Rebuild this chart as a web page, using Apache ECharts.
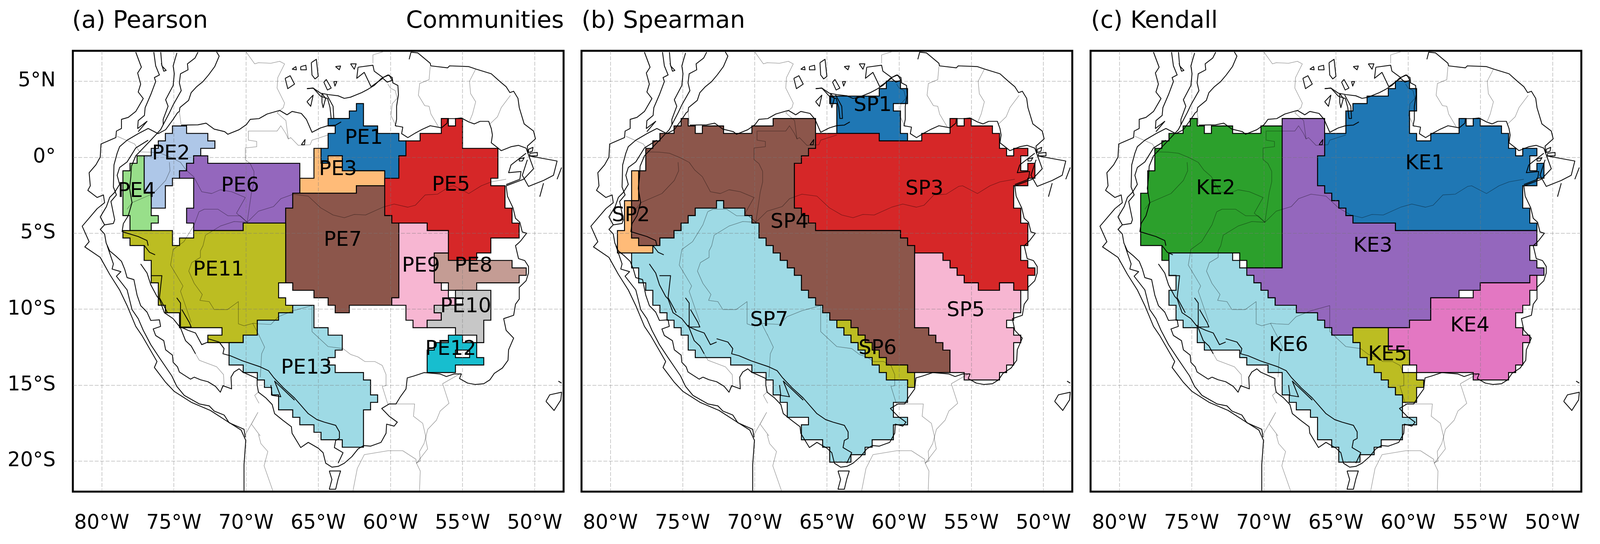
<!DOCTYPE html>
<html>
<head>
<meta charset="utf-8">
<title>Communities</title>
<script src="https://cdn.jsdelivr.net/npm/echarts@6/dist/echarts.min.js"></script>
<style>
	html, body { margin: 0; padding: 0; background: #fff; overflow: hidden; }
	#chart { width: 100vw; height: 100vh; }
</style>
</head>
<body>
<div id="chart"></div>
<script>
// axis ticks
var lonTicks = [-80, -75, -70, -65, -60, -55, -50];
var latTicks = [-20, -15, -10, -5, 0, 5];

// the communities sit on a lattice: cell corner index -> lon / lat
var cellLon0 = -78.53, cellLonStep = 0.4902;
var cellLat0 = 0.09, cellLatStep = 0.4915;

// outlines: first corner i,j then alternating new i, new j (rectilinear walk)
var PE1 = [33,-7, 34,-4,36,-3,39,-2,40,0,39,3,37,2,31,0,29,1,28,-1,29,-3,30,-4,29,-5,32,-6,33];
var PE2 = [7,-4, 9,-3,12,-2,13,-1,11,0,10,1,9,2,8,3,7,4,6,7,4,5,3,0,4,-1,5,-2,6,-3,7];
var PE3 = [27,-1, 28,1,29,0,31,2,37,4,33,5,25,3,27];
var PE4 = [0,2, 1,1,2,0,3,5,4,8,5,9,4,10,1,8,0];
var PE5 = [45,-5, 46,-4,47,-5,48,-1,53,3,52,4,54,7,55,9,56,11,52,13,50,14,46,10,43,9,38,8,37,3,39,0,40,-2,42,-3,45];
var PE6 = [10,0, 12,1,25,5,24,7,23,9,17,10,10,9,9,7,10,3,8,2,9,1,10];
var PE7 = [33,4, 37,8,38,9,39,19,38,20,32,21,30,20,29,19,27,18,24,17,23,7,24,5,33];
var PE8 = [44,13, 46,14,55,15,57,16,56,17,50,18,46,17,44];
var PE9 = [39,9, 43,10,46,13,44,17,45,18,46,19,47,20,44,21,45,22,43,23,41,22,40,20,38,19,39];
var PE10 = [47,18, 52,22,51,25,50,24,47,23,43,22,45,21,44,20,48,19,47];
var PE11 = [0,10, 7,12,8,11,10,10,17,9,23,17,22,19,23,20,24,21,22,22,19,24,17,25,12,24,14,23,8,21,6,20,5,17,4,14,3,12,1,11,0];
var PE12 = [46,24, 48,25,50,27,51,28,47,29,43,26,44,25,46];
var PE12gap = [47,26, 49,27,47];
var PE13 = [24,20, 27,23,29,24,31,26,30,27,29,28,30,29,34,30,35,32,36,33,35,34,34,39,31,38,28,37,27,36,25,35,24,34,22,32,21,31,20,30,19,29,17,28,15,25,17,24,19,22,22,21,24];

var SP1 = [28,-8, 35,-9,36,-10,38,-9,39,-7,37,-6,38,-3,39,-2,35,-3,29,-7,28];
var SP2 = [0,2, 1,6,0,11,1,12,3,13,-2,10,-1,6,0];
var SP3 = [26,-3, 35,-2,41,-3,45,-5,46,-4,47,-5,48,-4,51,-3,52,-1,53,0,54,-1,56,0,55,2,56,1,57,3,56,4,54,7,55,9,56,12,55,14,56,15,57,16,56,18,54,17,52,18,49,17,47,16,46,15,45,14,44,13,40,12,39,11,38,10,26,9,25,8,24,7,23,1,24,0,25,-1,26];
var SP4 = [2,-1, 3,-2,4,-3,6,-4,7,-5,8,-4,9,-3,10,-4,13,-3,17,-4,20,-5,26,-1,25,0,24,1,23,7,24,8,25,9,26,10,38,11,39,12,40,23,42,24,43,25,44,26,45,29,39,28,36,27,35,26,34,25,33,24,32,23,31,22,28,21,27,20,26,19,25,18,24,16,23,15,22,14,21,13,20,12,19,11,18,9,17,8,16,7,13,6,12,7,9,8,8,9,7,10,6,11,4,12,1,11,0,6,1,2,2];
var SP5 = [40,13, 44,14,45,15,46,16,47,17,49,18,52,17,54,18,55,21,54,22,53,23,54,24,55,25,54,28,53,29,52,30,47,29,45,26,44,25,43,24,42,23,40];
var SP6 = [29,22, 31,23,32,24,33,25,34,26,35,27,36,28,39,29,40,31,39,30,36,29,35,28,34,27,33,26,32,25,31,24,30,23,29];
var SP7 = [0,13, 3,12,4,11,6,10,7,9,8,8,9,7,12,6,13,7,16,8,17,9,18,11,19,12,20,13,21,14,22,15,23,16,24,18,25,19,26,20,27,21,28,22,29,23,30,24,31,25,32,26,33,27,34,28,35,29,36,30,39,33,37,35,39,36,37,38,34,39,33,40,31,41,28,39,27,38,24,36,25,35,22,33,21,32,20,30,19,29,17,28,14,27,9,26,8,24,7,23,6,22,5,21,4,20,3,18,2,17,1,15,0];

var KE1 = [36,-10, 38,-9,39,-6,38,-3,39,-2,41,-3,45,-5,46,-4,47,-5,48,-4,51,-3,52,-1,53,0,54,-1,56,0,55,2,56,1,57,3,56,4,54,7,55,9,56,10,36,9,30,8,29,7,28,6,27,5,26,4,25,0,26,-3,29,-6,30,-7,32,-8,35,-9,36];
var KE2 = [7,-5, 8,-4,9,-3,10,-4,13,-3,17,-4,20,15,15,14,14,13,4,14,3,12,0,5,1,2,2,-1,3,-2,4,-3,6,-4,7];
var KE3 = [20,-5, 26,0,25,4,26,5,27,6,28,7,29,8,30,9,36,10,56,12,55,14,56,15,57,16,55,17,48,18,45,19,41,22,38,23,30,24,27,23,26,22,25,21,22,20,19,19,18,18,17,17,16,16,15,15,20];
var KE4 = [38,22, 41,19,47,18,48,17,55,16,56,18,55,20,54,21,53,23,54,24,55,25,54,28,53,29,52,30,47,29,39,28,38,26,35,23,38];
var KE5 = [30,23, 35,26,38,28,37,29,39,30,40,31,39,33,37,32,36,31,35,30,34,29,33,28,32,27,31,25,30];
var KE6 = [4,13, 13,14,14,15,15,16,16,17,17,18,18,19,19,20,22,21,25,22,26,23,27,24,30,25,31,27,32,28,33,29,34,30,35,31,36,32,37,35,39,36,37,38,34,39,33,40,31,41,28,39,27,38,25,35,24,34,22,33,21,32,20,29,18,28,15,27,14,26,9,25,8,23,6,22,5,20,4,18,5,16,4];

// community names, fill colours, label positions (lon, lat)
var pearsonNames = ['PE1','PE2','PE3','PE4','PE5','PE6','PE7','PE8','PE9','PE10','PE11','PE12','PE13'];
var pearsonShapes = [PE1,PE2,PE3,PE4,PE5,PE6,PE7,PE8,PE9,PE10,PE11,PE12,PE13];
var pearsonColors = ['#1f77b4','#aec7e8','#ffbb78','#98df8a','#d62728','#9467bd','#8c564b','#c49c94','#f7b6d2','#c7c7c7','#bcbd22','#17becf','#9edae5'];
var pearsonLabels = [[-61.84,1.23],[-75.2,0.2],[-63.63,-0.82],[-77.57,-2.26],[-55.8,-1.85],[-70.41,-1.9],[-63.3,-5.48],[-54.24,-7.19],[-57.88,-7.19],[-54.78,-9.84],[-71.9,-7.44],[-55.82,-12.65],[-65.81,-13.9]];

var spearmanNames = ['SP1','SP2','SP3','SP4','SP5','SP6','SP7'];
var spearmanShapes = [SP1,SP2,SP3,SP4,SP5,SP6,SP7];
var spearmanColors = ['#1f77b4','#ffbb78','#d62728','#8c564b','#f7b6d2','#bcbd22','#9edae5'];
var spearmanLabels = [[-61.83,3.4],[-78.58,-3.86],[-58.24,-2.12],[-67.59,-4.29],[-55.38,-10.11],[-61.49,-12.6],[-69,-10.75]];

var kendallNames = ['KE1','KE2','KE3','KE4','KE5','KE6'];
var kendallShapes = [KE1,KE2,KE3,KE4,KE5,KE6];
var kendallColors = ['#1f77b4','#2ca02c','#9467bd','#e377c2','#bcbd22','#9edae5'];
var kendallLabels = [[-58.84,-0.43],[-73.33,-2.08],[-62.44,-5.87],[-55.72,-11.12],[-61.42,-13.02],[-68.28,-12.4]];

// base map, lon,lat pairs: black = basin edge, coast, Andes contours
var basinNorth = [-74.49,2.11,-73.33,2.13,-72.77,2.24,-72.21,1.85,-71.48,1.68,-71.26,1.51,-70.48,1.81,-69.97,2.15,-69.71,2.49,-69.1,2.54,-68.54,2.84,-67.67,3.08,-67.16,2.79,-66.81,3.01,-66.17,2.88,-65.82,2.49,-65.43,1.64,-64.83,1.93,-64.31,2.08,-63.8,2.11,-63.41,2.32];
var basinRoraima = [-65.78,4.51,-65.35,4.55,-64.83,4.21,-64.31,4.12,-63.62,4.04,-63.19,3.87,-62.76,3.95,-61.99,4.25,-61.55,4.47,-61.12,4.72,-60.61,5.19,-60.17,5.41,-59.87,5.24,-59.83,4.89,-59.48,4.72,-59.44,4.12,-59.57,3.35,-59.57,2.49,-59.66,2.07,-59.14,1.98,-59.22,1.55,-58.79,1.29,-58.27,1.59,-57.84,1.81,-57.24,2.07,-56.46,1.93,-56.07,2.24,-56.03,2.54,-55.51,2.54,-55.08,2.58,-54.57,2.32,-54.18,2.19,-53.79,2.36,-53.19,2.36,-53.01,1.89,-52.93,1.46,-53.01,0.95,-52.54,0.6,-52.32,0.43,-51.64,0.69,-51.12,0.78,-50.6,0.6,-50.47,0.26];
var casiquiare = [-65.78,4.51,-65.35,4.55,-64.83,4.01,-64.35,3.86,-64.18,3.26,-64.1,2.55,-63.92,2.55,-63.97,3.35,-64.4,4.1];
var guianaCoast = [-58.7,6.44,-58.57,6.91,-58.1,6.86,-57.24,6.18,-57.2,6.01,-56.03,5.88,-55.9,6.01,-54.57,5.96,-54.05,5.79,-53.01,5.49,-52.41,4.98,-51.98,4.64,-51.72,4.25,-51.46,4.34,-51.16,3.87,-51.07,3.26,-50.73,2.19,-50.08,1.72,-49.95,1.21,-50.51,0.73,-50.47,0.26,-50.08,-0.76,-50.77,-1.45,-51.98,-1.88];
var basinSouth = [-51.98,-1.88,-51.89,-2.56,-51.5,-3.34,-51.33,-4.02,-51.03,-4.28,-50.86,-4.92,-50.56,-5,-50.95,-5.48,-51.07,-5.6,-51.33,-5.82,-51.12,-6.67,-50.69,-6.8,-50.43,-7.19,-50.43,-7.62,-50.6,-8.13,-51.07,-8.56,-51.07,-9.33,-51.33,-9.67,-51.46,-10.4,-52.15,-10.62,-51.98,-11.39,-51.46,-11.9,-51.81,-12.67,-51.85,-13.36,-52.24,-13.87,-52.8,-14.22,-53.1,-14.64,-53.53,-14.9,-54.13,-14.95,-54.65,-14.86,-55.21,-14.56,-55.08,-14.26,-55.6,-14.26,-56.12,-14.43,-56.55,-14.26,-57.67,-14.17,-58.36,-14.39,-58.83,-14.52,-58.92,-15.25,-59.31,-15.76,-59.61,-16.23,-60.08,-16.23,-60.6,-16.53,-60.08,-17.04,-59.52,-17.43,-59.74,-17.69,-60.26,-17.56,-60.3,-18.16,-60.65,-18.76,-61.38,-19.01,-61.85,-18.97,-62.24,-19.19,-62.67,-19.7,-63.19,-20.13,-63.62,-20.34,-64.05,-20.39,-64.48,-20.13,-64.66,-19.44,-65,-19.14,-65.69,-18.76,-66.21,-19.1,-66.81,-18.16,-66.86,-17.73,-67.46,-17.3,-68.02,-16.87,-68.19,-16.27,-68.62,-15.84,-69.14,-15.46,-69.23,-14.99,-69.23,-14.56,-70.23,-14.13,-70.48,-13.92,-70.83,-14.13,-71.04,-14.47,-71,-15.24,-71.6,-15.03,-71.78,-15.46,-72.12,-15.07,-72.64,-14.77,-73.16,-14.64,-73.59,-14.47,-73.85,-14.6,-74.62,-14.13,-74.75,-13.79,-75.05,-13.49,-75.1,-13.02,-75.57,-12.67,-75.7,-12.07,-76.26,-11.73,-76.43,-11.3,-75.92,-11.13,-76,-10.7,-76.6,-10.74,-76.86,-10.19,-77.3,-9.76,-77.55,-9.07,-77.77,-8.05,-78.24,-7.92,-78.41,-7.36,-78.63,-6.85,-79.02,-6.5,-79.45,-6.16,-79.69,-5.65,-79.8,-5.05,-80.1,-4.75,-79.8,-4.45,-79.19,-4.36,-79.1,-4.11,-79.36,-2.91,-78.98,-2.48,-79.19,-1.96,-79.15,-0.51,-78.93,0.26,-78.76,0.69,-78.24,1.12,-77.47,1.55,-76.78,1.89,-76.09,1.55,-75.57,1.81,-75.05,2.49,-74.75,2.92,-74.62,3.01,-74.58,3.27,-73.98,3.74,-73.8,4.25,-73.42,4.64,-72.98,4.98,-72.6,5.41,-72.17,5.96,-71.86,6.65,-72.04,6.93];
var contourWest = [-79.62,-5.82,-79.19,-7.02,-79.28,-7.36,-78.67,-7.53,-78.98,-7.83,-78.24,-8.73,-77.9,-10.02,-77.47,-10.62,-77.12,-11.39,-76.6,-12.33,-76,-13.19,-75.14,-14.39,-74.8,-15.07,-74.28,-15.67,-73.24,-16.23,-72.55,-16.36,-72.21,-16.7,-71.52,-16.96,-71.17,-17.47,-70.14,-17.9,-70.05,-18.42];
var contourEast = [-77.3,-7.02,-76.86,-7.62,-76.6,-8.39,-76.17,-9.16,-76,-9.33,-75.66,-10.23,-75.05,-10.62,-74.62,-11.13,-74.02,-11.39,-73.5,-11.56,-73.07,-12.33,-72.64,-12.16];
var andesStrand = [-74.62,-11.04,-74.19,-12.07,-73.8,-12.42,-73.5,-12.93];
var titicacaLine = [-72.64,-11.94,-71.86,-12.16,-71.52,-12.59,-71.6,-12.93,-71.09,-13.06,-70.23,-13.4,-69.02,-13.79,-68.45,-14.04,-68.06,-14.52,-67.42,-15.16,-66.64,-15.84,-65.69,-16.87,-65.09,-17.26,-64.57,-17.43,-63.79,-17.64,-63.53,-18.07,-63.53,-18.5,-63.79,-18.63,-63.88,-19.1,-63.28,-19.44,-63.62,-20.13];
var southBlob = [-64.23,-20.64,-63.45,-20.64,-63.62,-21.16,-63.79,-21.84,-64.23,-21.84,-64.05,-21.2,-64.23,-20.64];
var titicacaLake = [-68.28,-14.99,-68.19,-15.67,-67.59,-15.76,-68.02,-14.73,-66.64,-15.98];
var olive1 = [-77.04,-5.82,-76.69,-6.25,-76.3,-6.42];
var olive2 = [-76.6,-7.79,-75.83,-7.79,-76,-9.24,-75.44,-10.23];
var olive3 = [-74.8,-9.25,-74.54,-9.59,-74.54,-11.04,-74.54,-11.17,-73.8,-11.17,-73.93,-10.87,-74.45,-10.02];
var olive4 = [-78.5,-4.92,-77.47,-5.22,-76.86,-5.48,-76.78,-5.82];
var cordillera1 = [-76.39,6.91,-76.26,6.01,-76,5.41,-76.35,5.24,-76.26,4.98,-76.6,4.12,-76.99,3.26,-77.04,2.75,-77.47,2.41,-77.51,1.89,-76.86,2.36,-77.47,1.68];
var cordillera2 = [-75.91,6.91,-75.83,6.01,-75.53,5.71,-75.7,5.66,-75.87,6.18];
var cordillera3 = [-74.79,6.86,-75.05,6.01,-74.97,5.49,-75.05,4.72,-75.57,3.78,-75.4,3.35,-75.74,2.49,-75.74,2.15];
var cordillera4 = [-73.33,6.91,-73.54,6.52,-74.06,6.14,-74.02,5.75,-74.54,5.49,-74.62,4.89,-74.49,4.38,-75.05,3.44,-75.31,2.92,-75.92,1.81,-76.6,1.12,-77.64,0.09,-77.94,-0.59,-77.98,-1.28,-78.07,-2.05,-77.9,-2.99,-78.16,-3.85,-78.5,-4.37,-78.59,-4.92];
var cordillera5 = [-76.78,1.12,-77.64,0.61,-78.24,-0.31,-78.76,-0.68,-78.93,-1.19,-78.76,-1.79,-79.1,-2.31,-79.45,-2.65,-79.67,-3.25,-80.1,-3.93,-79.8,-4.45];
var pacificCoast = [-70.14,-21.94,-70.14,-20.23,-70.02,-18.63,-70.34,-17.95,-71.43,-17.3,-72.47,-16.66,-73.76,-16.14,-74.97,-15.41,-75.57,-14.81,-76.35,-13.83,-76.17,-13.44,-77.21,-11.73,-77.64,-11.13,-78.24,-9.76,-78.76,-8.73,-79.45,-7.7,-80.1,-6.59,-81.17,-5.9,-80.87,-5.56,-81.35,-4.54,-80.31,-3.38,-79.8,-2.99,-79.88,-2.48,-80.31,-2.65,-80.96,-2.18,-80.79,-1.88,-80.87,-1.02,-80.4,-0.5,-80.1,0.01,-80.05,0.87,-79.02,1.29,-78.98,1.72,-78.63,1.89,-78.63,2.49,-78.16,2.62,-77.64,3.01,-77.12,3.86,-77.47,4.29,-77.3,4.81,-77.51,5.54,-77.25,5.92,-77.64,6.91];
var delta1 = [-50.43,0.09,-48.45,-0.25,-48.7,-1.19,-49.39,-1.53,-50.43,-1.92,-50.86,-1.19,-50.51,-0.17];
var delta2 = [-51.98,-1.8,-51.03,-1.45,-50.95,-0.94,-51.81,-1.02,-51.64,-0.51,-50.6,0.26];
var delta3 = [-49.39,-1.71,-49.65,-2.6];
var delta4 = [-48.45,-1.45,-48.14,-0.68];
var island1 = [-66.81,5.79,-66.55,5.96,-66.51,5.75,-66.81,5.79];
var island2 = [-66.21,5.96,-65.86,6.05,-65.82,5.75,-66.21,5.75,-66.21,5.96];
var island3 = [-65.48,6.22,-65.13,6.44,-65,5.32,-65.22,5.15,-65.43,5.41,-65.48,6.22];
var island4 = [-67.29,5.19,-66.94,5.36,-66.64,4.81,-67.11,4.51,-67.29,5.19];
var island5 = [-64.61,4.94,-64.44,5.11,-64.1,4.55,-64.36,4.42,-64.61,4.94];
var island6 = [-63.8,5.96,-63.45,6,-63.54,5.75,-63.8,5.96];
var island7 = [-62.76,6.14,-62.37,6.14,-62.5,5.79,-62.76,6.14];
var island8 = [-63.92,4.98,-63.71,4.98,-63.84,4.68,-63.92,4.98];
var island9 = [-65.78,3.65,-65.35,4.08,-65.52,3.35,-65.78,3.65];
var island10 = [-62.24,5.92,-61.21,6.05,-61.12,5.66,-60.52,5.24,-60.09,5.41,-59.87,5.06,-60.22,4.94,-60.52,5.19,-61.34,4.64,-61.81,5.58,-62.33,5.19,-62.24,5.92];
var island11 = [-64.74,4.21,-64.49,3.86,-64.66,3.26,-64.74,3.61,-64.74,4.21];
var island12 = [-66.17,0.82,-65.91,1.16,-65.95,0.82,-66.17,0.82];
var island13 = [-49.22,-16.06,-48.96,-15.63,-48.14,-15.46,-48.19,-15.97,-48.66,-16.66,-49.22,-16.06];
var island14 = [-48.36,-14.73,-48.14,-14.86];
var island15 = [-50.43,0.52,-50.12,0.65,-50.17,0.39,-50.43,0.31,-50.43,0.52];
var island16 = [-50.34,0.26,-49.82,0.31,-49.82,0.09,-50.34,0.09,-50.34,0.26];
var island17 = [-51.07,-0.12,-50.73,-0.03,-50.86,-0.25,-51.07,-0.25,-51.07,-0.12];

// base map, grey = rivers and borders
var river1 = [-78.93,1.38,-77.72,0.87,-77.38,0.35,-76.6,0.33,-75.91,0.26,-75.14,-0.04,-74.54,-0.34,-74.15,-0.85,-73.63,-1.28,-73.07,-2.27,-72.38,-2.39,-71.78,-2.14,-71,-2.27,-70.05,-2.65,-70.66,-3.68,-69.92,-4.28];
var river2 = [-75.31,-0.33,-75.27,-0.89,-75.57,-1.53,-76.43,-2.39,-77.9,-2.99,-78.24,-3.42];
var river3 = [-69.71,-0.42,-69.45,-0.93,-69.45,-1.62,-69.62,-2.31,-69.92,-4.28];
var border1 = [-64.31,1.46,-65.43,1.12,-65.56,0.82,-66.38,0.78,-66.9,1.29,-67.07,1.2,-67.24,1.55,-67.59,2.07,-67.85,1.72,-69.84,1.72,-69.84,1.12,-69.26,1.04,-69.26,0.69,-70.05,0.61,-70.05,-0.16,-69.71,-0.42];
var border2 = [-70,6.93,-69.4,6.14,-69.14,6.22,-68.28,6.18,-67.67,6.31,-67.33,6.14,-67.8,5.24,-67.85,4.55,-67.33,3.56,-67.42,3.26,-67.85,2.92,-67.24,2.41,-67.07,1.2];
var border3 = [-60.52,6.93,-61.21,6.73,-61.21,6.18];
var border4 = [-60.17,4.81,-60,4.55,-59.66,4.38,-59.53,3.87,-59.87,3.52,-59.96,2.75,-59.57,1.98];
var border5 = [-57.24,5.96,-57.32,5.1,-57.97,4.85,-58.06,4.08,-57.62,3.39,-57.32,3.35,-57.19,2.84,-56.68,2.02];
var border6 = [-54.09,5.79,-54.52,5,-54.44,4.18,-54.09,3.65,-54.31,2.84,-54.52,2.36];
var border7 = [-51.68,4.07,-52.32,3.26,-52.58,2.66,-53.14,2.15];
var border8 = [-74.62,3.01,-74.5,2.15];
var amazon = [-69.92,-4.28,-69.14,-3.55,-68.1,-3.25,-67.59,-2.73,-66.73,-2.43,-65.69,-2.56,-64.83,-3.33,-63.97,-3.8,-63.19,-3.98,-62.5,-3.76,-61.72,-3.8,-60.52,-3.29,-59.74,-3.08,-58.79,-3.29,-58.27,-3.16,-57.59,-2.48,-56.73,-2.43,-55.87,-1.92,-55.6,-1.88,-54.57,-2.39,-53.7,-1.88,-53.01,-1.62,-51.98,-1.45];
var purus = [-69.92,-4.28,-70.83,-4.23,-71.78,-4.53,-72.81,-5.13,-72.98,-5.82,-73.16,-6.16,-73.16,-6.59,-73.76,-6.93,-73.97,-7.49,-73.59,-8.3,-73.03,-9.03,-73.2,-9.42,-72.55,-9.5,-72.21,-10.02,-71.3,-10.03,-70.53,-9.5,-70.53,-10.96,-70.14,-11.09,-69.49,-10.92,-69.14,-10.96,-68.28,-11,-67.76,-10.49,-66.73,-10.1,-65.43,-9.76];
var guapore = [-65.43,-9.76,-65.43,-11.47,-64.31,-12.46,-63.28,-12.59,-62.76,-12.97,-62.24,-13.14,-61.77,-13.44,-61.08,-13.44,-60.56,-13.7,-60.3,-14.3,-60.3,-15.03,-60.56,-15.07,-60.17,-16.27];
var ucayali = [-73.26,-3.59,-72.9,-3.42,-71.95,-3.42,-71.26,-3.85,-70.4,-3.85,-69.92,-4.28];
var maranon = [-73.26,-3.59,-73.59,-4.45,-74.31,-5.56,-75.05,-6.07,-75.23,-7.1,-74.37,-8.47,-74.54,-8.82,-73.8,-10.87];
var andesGrey = [-73.5,-12.93,-73.24,-13.36,-72.03,-13.79,-71.56,-14.3,-71.52,-14.99,-71.73,-15.33];
var acreBranch = [-69.54,-10.92,-69.1,-11.73,-69.14,-11.64,-68.71,-12.5,-68.92,-12.93,-69.01,-14.47];
var border9 = [-60.17,-16.23,-58.32,-16.23,-58.4,-17.04,-57.76,-17.51,-57.54,-18.41,-57.54,-18.6,-57.42,-19.19,-58.19,-20.13,-57.93,-20.64,-57.98,-21.93];
var border10 = [-55.13,-14.22,-56.38,-14.9,-55.94,-16.19,-56.55,-16.7,-56.81,-17.3,-57.41,-17.9,-57.67,-18.84,-57.98,-19.36,-57.93,-19.96,-58.19,-20.13];
var border11 = [-62.59,-21.93,-62.29,-20.47,-61.81,-19.57,-60.17,-19.31,-59.14,-19.31,-58.23,-19.87,-58.19,-20.13];
var border12 = [-69.14,-18.24,-68.97,-18.84,-68.49,-19.36,-68.75,-20.3,-68.15,-21.93];
var border13 = [-70.05,-18.25,-69.18,-16.79,-69.62,-17.56,-69.02,-18.33];
var border14 = [-69.1,-15.41,-69.4,-15.67,-69.1,-16.19];

var blackLines = [basinNorth,basinRoraima,casiquiare,guianaCoast,basinSouth,contourWest,contourEast,andesStrand,titicacaLine,southBlob,titicacaLake,olive1,olive2,olive3,olive4,cordillera1,cordillera2,cordillera3,cordillera4,cordillera5,pacificCoast,delta1,delta2,delta3,delta4,island1,island2,island3,island4,island5,island6,island7,island8,island9,island10,island11,island12,island13,island14,island15,island16,island17];
var greyLines = [river1,river2,river3,border1,border2,border3,border4,border5,border6,border7,border8,amazon,purus,guapore,ucayali,maranon,andesGrey,acreBranch,border9,border10,border11,border12,border13,border14];

var fontName = 'DejaVu Sans';

function walkToLonLat(walk)
{
	var points = [];
	var i = walk[0], j = walk[1];
	points.push([cellLon0 + i * cellLonStep, cellLat0 - j * cellLatStep]);
	for (var k = 2; k < walk.length; k++)
	{
		if (k % 2 == 0) { i = walk[k]; } else { j = walk[k]; }
		points.push([cellLon0 + i * cellLonStep, cellLat0 - j * cellLatStep]);
	}
	return points;
}

function pairsToLonLat(pairs)
{
	var points = [];
	for (var k = 0; k < pairs.length; k += 2)
	{
		points.push([pairs[k], pairs[k + 1]]);
	}
	return points;
}

function regionSeries(panel, shapes, colors, extraShapes)
{
	var outlines = shapes.map(walkToLonLat);
	var fills = colors.slice();
	extraShapes.forEach(function (s) { outlines.push(walkToLonLat(s)); fills.push('#ffffff'); });
	return {
		type: 'custom',
		xAxisIndex: panel,
		yAxisIndex: panel,
		coordinateSystem: 'cartesian2d',
		z: 2,
		clip: true,
		silent: true,
		encode: { x: 0, y: 1 },
		data: outlines.map(function (o, idx) { return [o[0][0], o[0][1], idx]; }),
		renderItem: function (params, api) {
			var idx = api.value(2);
			return {
				type: 'polygon',
				shape: { points: outlines[idx].map(function (p) { return api.coord(p); }) },
				style: { fill: fills[idx], stroke: '#000', lineWidth: 2.4 }
			};
		}
	};
}

function mapLineSeries(panel, lines, color, width, z)
{
	var paths = lines.map(pairsToLonLat);
	return {
		type: 'custom',
		xAxisIndex: panel,
		yAxisIndex: panel,
		coordinateSystem: 'cartesian2d',
		z: z,
		clip: true,
		silent: true,
		encode: { x: 0, y: 1 },
		data: paths.map(function (o, idx) { return [o[0][0], o[0][1], idx]; }),
		renderItem: function (params, api) {
			return {
				type: 'polyline',
				shape: { points: paths[api.value(2)].map(function (p) { return api.coord(p); }) },
				style: { fill: null, stroke: color, lineWidth: width, lineJoin: 'round' }
			};
		}
	};
}

function labelSeries(panel, names, positions)
{
	return {
		type: 'custom',
		xAxisIndex: panel,
		yAxisIndex: panel,
		coordinateSystem: 'cartesian2d',
		z: 6,
		silent: true,
		encode: { x: 0, y: 1 },
		data: positions.map(function (p, idx) { return [p[0], p[1], idx]; }),
		renderItem: function (params, api) {
			var c = api.coord([api.value(0), api.value(1)]);
			return {
				type: 'text',
				style: {
					x: c[0], y: c[1],
					text: names[api.value(2)],
					fill: '#000',
					font: (54.5 * pageScale) + 'px "' + fontName + '"',
					textAlign: 'center',
					textVerticalAlign: 'middle'
				}
			};
		}
	};
}

var myChart = echarts.init(document.getElementById('chart'));

// the layout was measured on the 4284 wide picture, follow whatever width the page really has
var pageScale = myChart.getWidth() / 4284;

var panelLefts = [195, 1557, 2920];
var panelWidth = 1314;
var panelTop = 130;
var panelHeight = 1128;

var grids = [], xAxes = [], yAxes = [], series = [];
panelLefts.forEach(function (left, panel) {
	grids.push({
		left: left * pageScale, top: panelTop, width: panelWidth * pageScale, height: panelHeight,
		show: true, backgroundColor: '#fff', borderColor: '#000', borderWidth: 5
	});
	xAxes.push({
		type: 'value', gridIndex: panel, min: -82, max: -48, z: 4,
		axisLine: { show: false },
		axisTick: { show: false, customValues: lonTicks },
		splitLine: { show: true, lineStyle: { color: 'rgba(120,120,120,0.5)', width: 1.5, type: [10, 4] } },
		axisLabel: {
			show: true, customValues: lonTicks, margin: 56,
			color: '#000', fontFamily: fontName, fontSize: 53.5 * pageScale,
			formatter: function (v) { return (-v) + '°W'; }
		}
	});
	yAxes.push({
		type: 'value', gridIndex: panel, min: -22, max: 7, z: 4,
		axisLine: { show: false },
		axisTick: { show: false, customValues: latTicks },
		splitLine: { show: true, lineStyle: { color: 'rgba(120,120,120,0.5)', width: 1.5, type: [10, 4] } },
		axisLabel: {
			show: panel == 0, customValues: latTicks, margin: 46 * pageScale,
			color: '#000', fontFamily: fontName, fontSize: 53.5 * pageScale,
			formatter: function (v) { return v > 0 ? v + '°N' : (v < 0 ? (-v) + '°S' : '0°'); }
		}
	});
});

series.push(regionSeries(0, pearsonShapes, pearsonColors, [PE12gap]));
series.push(regionSeries(1, spearmanShapes, spearmanColors, []));
series.push(regionSeries(2, kendallShapes, kendallColors, []));
[0, 1, 2].forEach(function (panel) {
	series.push(mapLineSeries(panel, greyLines, 'rgba(0,0,0,0.42)', 1.3, 5));
	series.push(mapLineSeries(panel, blackLines, 'rgba(0,0,0,0.95)', 2.2, 5));
});
series.push(labelSeries(0, pearsonNames, pearsonLabels));
series.push(labelSeries(1, spearmanNames, spearmanLabels));
series.push(labelSeries(2, kendallNames, kendallLabels));

var titleStyle = { color: '#000', fontFamily: fontName, fontSize: 64 * pageScale, fontWeight: 'normal' };

option = {
	backgroundColor: '#fff',
	animation: false,
	title: [
		{ text: '(a) Pearson', left: 193 * pageScale, top: 25, padding: 0, textStyle: titleStyle },
		{ text: 'Communities', left: 1510 * pageScale, top: 25, padding: 0, textAlign: 'right', textStyle: titleStyle },
		{ text: '(b) Spearman', left: 1557 * pageScale, top: 25, padding: 0, textStyle: titleStyle },
		{ text: '(c) Kendall', left: 2921 * pageScale, top: 25, padding: 0, textStyle: titleStyle }
	],
	grid: grids,
	xAxis: xAxes,
	yAxis: yAxes,
	series: series
};
myChart.setOption(option, true);
</script>
</body>
</html>
